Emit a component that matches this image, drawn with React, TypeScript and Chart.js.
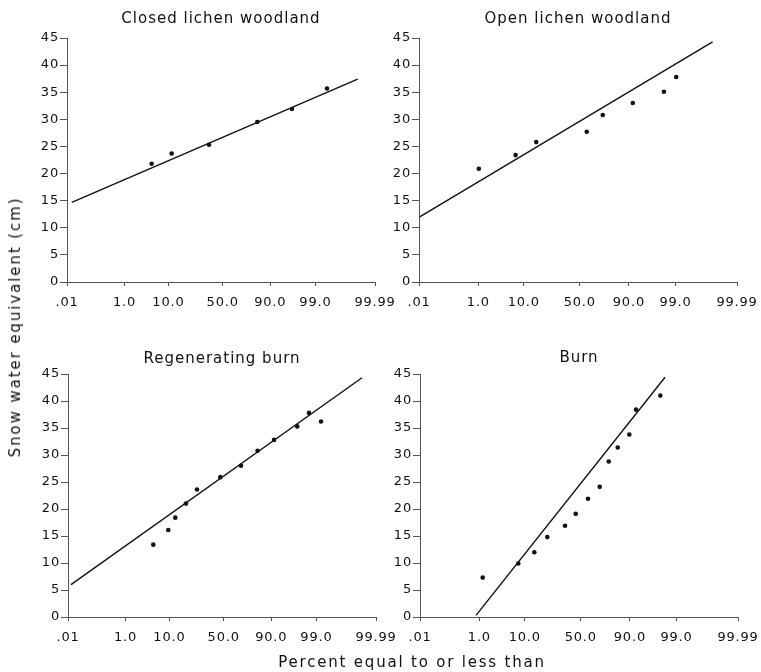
import React, { useEffect, useRef } from 'react';
import { Chart, registerables } from 'chart.js';

Chart.register(...registerables);

// Probability axis: positions in standard-normal (probit) units
const X_TICK_LABELS = ['.01', '1.0', '10.0', '50.0', '90.0', '99.0', '99.99'];
const X_TICK_POS = [-3.719, -2.33, -1.27, 0.04, 1.19, 2.28, 3.719];
const Y_MIN = 0;
const Y_MAX = 45;
const Y_STEP = 5;

const PANEL_TITLES = ['Closed lichen woodland', 'Open lichen woodland', 'Regenerating burn', 'Burn'];
const Y_TITLE = 'Snow water equivalent (cm)';
const X_TITLE = 'Percent equal to or less than';

// Closed lichen woodland
const closedX = [-1.674, -1.191, -0.29, 0.877, 1.714, 2.56];
const closedY = [21.8, 23.7, 25.3, 29.5, 31.9, 35.7];
const closedLineX = [-3.605, 3.301];
const closedLineY = [14.7, 37.4];

// Open lichen woodland
const openX = [-2.32, -1.46, -0.977, 0.204, 0.579, 1.282, 2.009, 2.297];
const openY = [20.9, 23.4, 25.8, 27.7, 30.8, 33.0, 35.1, 37.8];
const openLineX = [-3.703, 3.148];
const openLineY = [12.0, 44.3];

// Regenerating burn
const regenX = [-1.659, -1.297, -1.128, -0.869, -0.604, -0.041, 0.459, 0.86, 1.256, 1.818, 2.101, 2.391];
const regenY = [13.4, 16.1, 18.4, 21.0, 23.6, 25.9, 28.0, 30.8, 32.8, 35.3, 37.8, 36.2];
const regenLineX = [-3.647, 3.381];
const regenLineY = [6.0, 44.3];

// Burn
const burnX = [-2.252, -1.419, -1.045, -0.741, -0.327, -0.077, 0.211, 0.485, 0.695, 0.906, 1.177, 1.334, 1.902];
const burnY = [7.3, 9.9, 12.0, 14.8, 16.9, 19.1, 21.9, 24.1, 28.8, 31.4, 33.8, 38.4, 41.0];
const burnLineX = [-2.409, 2.012];
const burnLineY = [0.3, 44.4];

const FONT = "'DejaVu Sans', sans-serif";
const AXIS_COLOR = '#555';
const INK = '#111';

const PAD_LEFT = 60;
const PAD_TOP = 12;
const PAD_RIGHT = 30;
const PAD_BOTTOM = 40;

type PanelSpec = {
  title: string;
  xs: number[];
  ys: number[];
  lx: number[];
  ly: number[];
  left: number;
  top: number;
  width: number;
  height: number;
  titleY: number;
};

const PANELS: PanelSpec[] = [
  { title: PANEL_TITLES[0], xs: closedX, ys: closedY, lx: closedLineX, ly: closedLineY, left: 67, top: 38, width: 308, height: 244, titleY: 18 },
  { title: PANEL_TITLES[1], xs: openX, ys: openY, lx: openLineX, ly: openLineY, left: 419, top: 38, width: 318, height: 244, titleY: 18 },
  { title: PANEL_TITLES[2], xs: regenX, ys: regenY, lx: regenLineX, ly: regenLineY, left: 68, top: 374, width: 308, height: 243, titleY: 358 },
  { title: PANEL_TITLES[3], xs: burnX, ys: burnY, lx: burnLineX, ly: burnLineY, left: 420, top: 374, width: 318, height: 243, titleY: 357 },
];

const spacingPlugin = {
  id: 'tickSpacing',
  beforeDraw: (chart: any) => {
    try {
      (chart.ctx as any).letterSpacing = '0.8px';
    } catch (e) {
      /* ignore */
    }
  },
};

function Panel({ spec }: { spec: PanelSpec }) {
  const ref = useRef<HTMLCanvasElement>(null);
  useEffect(() => {
    if (!ref.current) return;
    const pts = spec.xs.map((x, i) => ({ x, y: spec.ys[i] }));
    const line = spec.lx.map((x, i) => ({ x, y: spec.ly[i] }));
    const chart = new Chart(ref.current, {
      type: 'scatter',
      data: {
        datasets: [
          {
            data: pts,
            showLine: false,
            pointRadius: 2.3,
            pointHoverRadius: 2.3,
            backgroundColor: INK,
            borderColor: INK,
            borderWidth: 0,
          },
          {
            data: line,
            showLine: true,
            pointRadius: 0,
            borderColor: INK,
            borderWidth: 1.4,
          },
        ],
      },
      plugins: [spacingPlugin],
      options: {
        responsive: false,
        animation: false,
        layout: { padding: { top: PAD_TOP, right: PAD_RIGHT, left: 0, bottom: 0 } },
        plugins: { legend: { display: false }, tooltip: { enabled: false }, title: { display: false } },
        scales: {
          x: {
            type: 'linear',
            min: X_TICK_POS[0],
            max: X_TICK_POS[X_TICK_POS.length - 1],
            afterBuildTicks: (scale: any) => {
              scale.ticks = X_TICK_POS.map((v) => ({ value: v }));
            },
            afterFit: (scale: any) => {
              scale.height = PAD_BOTTOM;
            },
            border: { display: true, color: AXIS_COLOR, width: 1 },
            grid: { display: true, drawOnChartArea: false, drawTicks: true, tickLength: 4, color: AXIS_COLOR },
            ticks: {
              autoSkip: false,
              maxRotation: 0,
              minRotation: 0,
              padding: 9,
              color: INK,
              font: { family: FONT, size: 13 },
              callback: (_v: any, i: number) => X_TICK_LABELS[i],
            },
          },
          y: {
            type: 'linear',
            min: Y_MIN,
            max: Y_MAX,
            afterFit: (scale: any) => {
              scale.width = PAD_LEFT;
            },
            border: { display: true, color: AXIS_COLOR, width: 1 },
            grid: { display: true, drawOnChartArea: false, drawTicks: true, tickLength: 7, color: AXIS_COLOR },
            ticks: {
              stepSize: Y_STEP,
              padding: 1,
              color: INK,
              font: { family: FONT, size: 13 },
            },
          },
        },
      },
    });
    return () => chart.destroy();
  }, [spec]);

  const cw = spec.width + PAD_LEFT + PAD_RIGHT;
  const ch = spec.height + PAD_TOP + PAD_BOTTOM;
  return (
    <>
      <canvas
        ref={ref}
        width={cw}
        height={ch}
        style={{ position: 'absolute', left: spec.left - PAD_LEFT, top: spec.top - PAD_TOP, width: cw, height: ch }}
      />
      <div
        style={{
          position: 'absolute',
          left: spec.left + spec.width / 2,
          top: spec.titleY,
          transform: 'translate(-50%, -50%)',
          whiteSpace: 'nowrap',
          fontFamily: FONT,
          fontSize: 15,
          letterSpacing: '1px',
          color: INK,
        }}
      >
        {spec.title}
      </div>
    </>
  );
}

export default function App() {
  return (
    <div
      style={{
        position: 'absolute',
        left: 0,
        top: 0,
        width: 761,
        height: 672,
        background: '#fff',
        overflow: 'hidden',
      }}
    >
      {PANELS.map((p, i) => (
        <Panel key={i} spec={p} />
      ))}
      <div
        style={{
          position: 'absolute',
          left: 15,
          top: 327,
          transform: 'translate(-50%, -50%) rotate(-90deg)',
          whiteSpace: 'nowrap',
          fontFamily: FONT,
          fontSize: 15,
          letterSpacing: '1.9px',
          color: INK,
        }}
      >
        {Y_TITLE}
      </div>
      <div
        style={{
          position: 'absolute',
          left: 412,
          top: 662,
          transform: 'translate(-50%, -50%)',
          whiteSpace: 'nowrap',
          fontFamily: FONT,
          fontSize: 15,
          letterSpacing: '1.8px',
          color: INK,
        }}
      >
        {X_TITLE}
      </div>
    </div>
  );
}
